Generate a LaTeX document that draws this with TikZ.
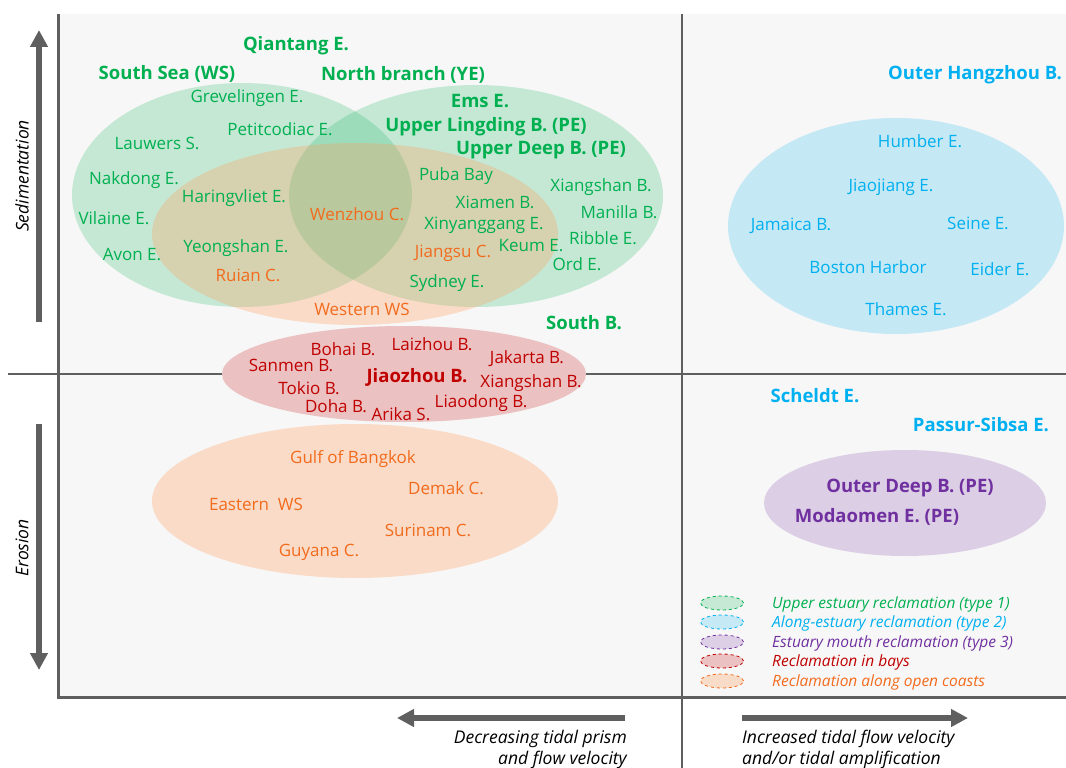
\documentclass[tikz,border=0pt]{standalone}
\usepackage{fontspec}
\setmainfont{Open Sans}
\usetikzlibrary{arrows.meta,shapes.geometric}
\definecolor{grn}{HTML}{00B050}
\definecolor{blu}{HTML}{00B0F0}
\definecolor{pur}{HTML}{7030A0}
\definecolor{rd}{HTML}{C00000}
\definecolor{org}{HTML}{F26B1D}
\definecolor{orgfill}{HTML}{FF9D5A}
\definecolor{axgray}{HTML}{5F5F5F}
\definecolor{panel}{HTML}{F7F7F7}
\tikzset{%
  tipA/.tip={Triangle[length=17pt,width=17pt]},
  lab/.style={inner sep=0pt, yshift=-1.5pt, font=\fontsize{17}{20}\selectfont},
  blab/.style={inner sep=0pt, yshift=-1.5pt, font=\fontsize{18.5}{22}\selectfont\bfseries},
  ilab/.style={inner sep=0pt, font=\fontsize{17.5}{21}\selectfont\itshape},
  leg/.style={inner sep=0pt, anchor=west, yshift=-1pt, font=\fontsize{15.5}{18}\selectfont\itshape},
  legend ell/.style={ellipse, draw, dashed, line width=0.8pt, minimum width=43pt, minimum height=14pt, inner sep=0pt},
  bigarrow/.style={axgray, line width=6pt, -tipA}
}
\begin{document}
\begin{tikzpicture}[x=1pt,y=-1pt]
\useasboundingbox (0,0) rectangle (1066,768);
\fill[panel] (58,14) rectangle (1066,697);
% the groups of reclamation sites
\fill[grn, fill opacity=0.2] (242,195) ellipse [x radius=170, y radius=112];
\fill[grn, fill opacity=0.2] (476,196) ellipse [x radius=187, y radius=111];
\fill[orgfill, fill opacity=0.3] (355,234) ellipse [x radius=203, y radius=91];
\fill[orgfill, fill opacity=0.3] (355,501) ellipse [x radius=203, y radius=77];
\fill[blu, fill opacity=0.2] (896,226) ellipse [x radius=168, y radius=108];
\fill[pur, fill opacity=0.2] (905,503) ellipse [x radius=141, y radius=53];
% quadrant lines
\draw[axgray, line width=1.6pt] (682,14) -- (682,768);
\draw[axgray, line width=1.6pt] (8,374) -- (1066,374);
\fill[rd!22!panel] (404,374) ellipse [x radius=182, y radius=48];
\draw[axgray, line width=3pt] (58,14) -- (58,697) -- (1066,697);

% axis arrows
\coordinate (sedA) at (39,322);
\coordinate (sedB) at (39,30);
\coordinate (eroA) at (39,424);
\coordinate (eroB) at (39,670);
\coordinate (decA) at (625,718);
\coordinate (decB) at (397,718);
\coordinate (incA) at (742,718);
\coordinate (incB) at (968,718);
\draw[bigarrow] (sedA) -- (sedB);
\draw[bigarrow] (eroA) -- (eroB);
\draw[bigarrow] (decA) -- (decB);
\draw[bigarrow] (incA) -- (incB);
\node[ilab, rotate=90] (sed) at (22,176) {Sedimentation};
\node[ilab, rotate=90] (ero) at (22,548) {Erosion};
\node[ilab, align=right, anchor=north east] (dec) at (627,730) {Decreasing tidal prism\\and flow velocity};
\node[ilab, align=left, anchor=north west] (inc) at (742,730) {Increased tidal flow velocity\\and/or tidal amplification};

% upper estuary (type 1)
\begin{scope}[grn]
\node[blab] (qian) at (296,44) {Qiantang E.};
\node[blab] (ssea) at (167,72) {South Sea (WS)};
\node[blab] (nbr) at (403,73) {North branch (YE)};
\node[blab] (ems) at (480,100) {Ems E.};
\node[blab] (uling) at (486,125) {Upper Lingding B. (PE)};
\node[blab] (udeep) at (541,149) {Upper Deep B. (PE)};
\node[blab] (southb) at (584,321) {South B.};
\node[lab] (grev) at (247,97) {Grevelingen E.};
\node[lab] (petit) at (280,128) {Petitcodiac E.};
\node[lab] (lauw) at (157,142) {Lauwers S.};
\node[lab] (nakd) at (134,179) {Nakdong E.};
\node[lab] (hari) at (234,197) {Haringvliet E.};
\node[lab] (vila) at (114,217) {Vilaine E.};
\node[lab] (avon) at (132,253) {Avon E.};
\node[lab] (yeong) at (236,247) {Yeongshan E.};
\node[lab] (puba) at (456,175) {Puba Bay};
\node[lab] (xiam) at (495,201) {Xiamen B.};
\node[lab] (xiny) at (484,224) {Xinyanggang E.};
\node[lab] (keum) at (531,244) {Keum E.};
\node[lab] (sydn) at (447,282) {Sydney E.};
\node[lab] (xsh) at (601,186) {Xiangshan B.};
\node[lab] (mani) at (619,211) {Manilla B.};
\node[lab] (ribb) at (603,237) {Ribble E.};
\node[lab] (ord) at (577,263) {Ord E.};
\end{scope}

% open coasts
\begin{scope}[org]
\node[lab] (wenz) at (357,213) {Wenzhou C.};
\node[lab] (jian) at (453,252) {Jiangsu C.};
\node[lab] (ruia) at (248,274) {Ruian C.};
\node[lab] (west) at (362,308) {Western WS};
\node[lab] (gulf) at (353,458) {Gulf of Bangkok};
\node[lab] (dema) at (446,487) {Demak C.};
\node[lab] (east) at (256,503) {Eastern\ \ WS};
\node[lab] (suri) at (428,529) {Surinam C.};
\node[lab] (guya) at (319,551) {Guyana C.};
\end{scope}

% bays
\begin{scope}[rd]
\node[lab] (boha) at (343,348) {Bohai B.};
\node[lab] (laiz) at (432,343) {Laizhou B.};
\node[lab] (sanm) at (291,364) {Sanmen B.};
\node[lab] (jaka) at (527,357) {Jakarta B.};
\node[blab] (jiao) at (417,376) {Jiaozhou B.};
\node[lab] (toki) at (309,387) {Tokio B.};
\node[lab] (xshb) at (531,382) {Xiangshan B.};
\node[lab] (doha) at (336,405) {Doha B.};
\node[lab] (arik) at (401,413) {Arika S.};
\node[lab] (liao) at (481,402) {Liaodong B.};
\end{scope}

% along-estuary (type 2)
\begin{scope}[blu]
\node[blab] (ohang) at (975,73) {Outer Hangzhou B.};
\node[blab] (sche) at (815,394) {Scheldt E.};
\node[blab] (pass) at (981,423) {Passur-Sibsa E.};
\node[lab] (humb) at (920,140) {Humber E.};
\node[lab] (jiaoj) at (891,186) {Jiaojiang E.};
\node[lab] (jama) at (791,224) {Jamaica B.};
\node[lab] (sein) at (978,222) {Seine E.};
\node[lab] (bost) at (868,266) {Boston Harbor};
\node[lab] (eide) at (1000,268) {Eider E.};
\node[lab] (tham) at (906,308) {Thames E.};
\end{scope}

% estuary mouth (type 3)
\node[blab, pur] (odeep) at (910,487) {Outer Deep B. (PE)};
\node[blab, pur] (modao) at (877,515) {Modaomen E. (PE)};

% legend
\node[legend ell, grn, fill=grn!20!panel] (e1) at (722,603) {};
\node[legend ell, blu, fill=blu!20!panel] (e2) at (722,622) {};
\node[legend ell, pur, fill=pur!20!panel] (e3) at (722,642) {};
\node[legend ell, rd, fill=rd!22!panel] (e4) at (722,661) {};
\node[legend ell, org, fill=orgfill!30!panel] (e5) at (722,681) {};
\node[leg, grn] (t1) at (772,603) {Upper estuary reclamation (type 1)};
\node[leg, blu] (t2) at (772,622) {Along-estuary reclamation (type 2)};
\node[leg, pur] (t3) at (772,642) {Estuary mouth reclamation (type 3)};
\node[leg, rd] (t4) at (772,661) {Reclamation in bays};
\node[leg, org] (t5) at (772,681) {Reclamation along open coasts};
\end{tikzpicture}
\end{document}
